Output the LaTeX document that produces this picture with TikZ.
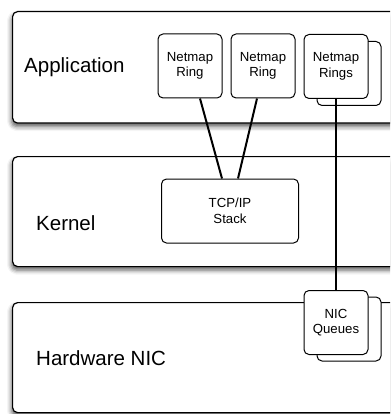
\documentclass[tikz,border=0pt]{standalone}
\usepackage{fontspec}
\setmainfont{Liberation Sans}
\usetikzlibrary{positioning,shadows.blur}

\begin{document}
\begin{tikzpicture}[
    x=1pt,y=-1pt,
    layer/.style={draw,line width=1.2pt,fill=white,rounded corners=5pt,anchor=north west,minimum width=420pt,inner sep=0pt,
      blur shadow={shadow xshift=-1pt,shadow yshift=-3.5pt,shadow blur radius=4.5pt,shadow opacity=65}},
    lbl/.style={anchor=west,inner sep=0pt,font=\fontsize{20.5}{24}\selectfont},
    ringbox/.style={draw,line width=1pt,fill=white,rounded corners=5pt,align=center,minimum width=64pt,minimum height=64pt,
      inner sep=0pt,font=\fontsize{13.2}{15.5}\selectfont},
    wire/.style={line width=2pt}
  ]
    \path[use as bounding box] (0,0) rectangle (390,414);
    \clip (0,0) rectangle (390,414);
    % layers
    \node[layer,minimum height=111.5pt] (app)  at (12,11)  {};
    \node[layer,minimum height=110pt]   (kern) at (12,156) {};
    \node[layer,minimum height=110pt]   (hw)   at (12,302) {};
    \node[lbl] (applbl)  at (24,67)  {Application};
    \node[lbl] (kernlbl) at (36,223) {Kernel};
    \node[lbl] (hwlbl)   at (36,358) {Hardware NIC};
    % boxes
    \node[ringbox] (ring1) at (190,66) {Netmap\\Ring};
    \node[ringbox] (ring2) at (263,66) {Netmap\\Ring};
    \node[ringbox] (ringsb) at (349,73.5) {};
    \node[ringbox] (rings) at (336,66.5) {Netmap\\Rings};
    \node[ringbox,minimum width=137pt] (tcp) at (230,211) {TCP/IP\\Stack};
    \node[ringbox] (nicqb) at (349,329) {};
    \node[ringbox] (nicq) at (336,322.5) {NIC\\Queues};
    % connectors
    \draw[wire] ([xshift=10pt]ring1.south) -- ([xshift=-8pt]tcp.north);
    \draw[wire] ([xshift=-6pt]ring2.south) -- ([xshift=8pt]tcp.north);
    \draw[wire] (rings.south) -- (nicq.north);
\end{tikzpicture}
\end{document}
